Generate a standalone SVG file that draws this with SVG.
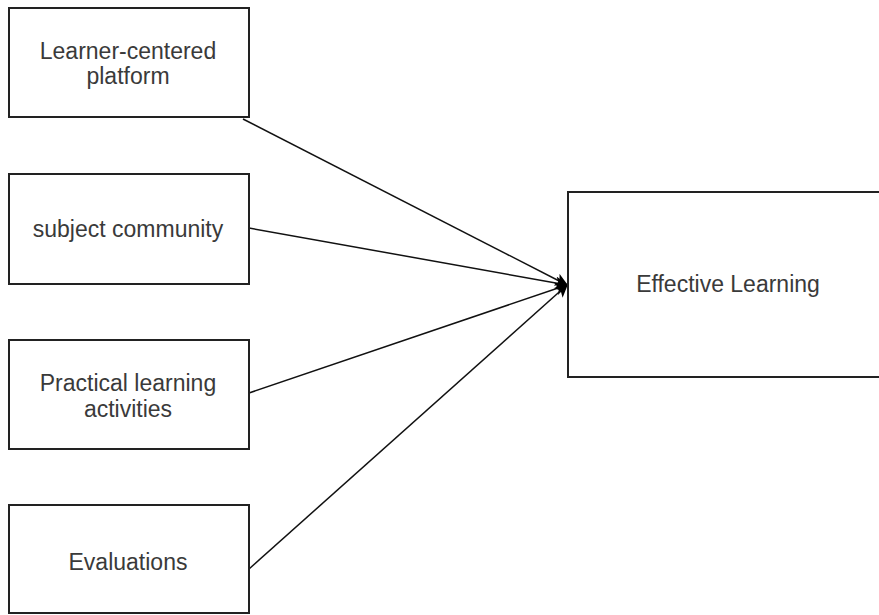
<svg xmlns="http://www.w3.org/2000/svg" width="879" height="615" viewBox="0 0 879 615">
<style>
.box{fill:#fff;stroke:#222;stroke-width:2}
.lbl{font-family:"Liberation Sans",Arial,sans-serif;font-size:23px;fill:#3a3a3a;text-anchor:middle}
.edge{stroke:#111;stroke-width:1.5;fill:none;marker-end:url(#arr)}
</style>
<defs>
<marker id="arr" viewBox="0 0 10 10" refX="9" refY="5" markerWidth="13" markerHeight="13" markerUnits="userSpaceOnUse" orient="auto">
<path d="M0,0 L10,5 L0,10 L2.5,5 Z" fill="#000"/>
</marker>
</defs>
<rect width="879" height="615" fill="#fff"/>
<g id="connectors">
<line class="edge" x1="243" y1="119" x2="567" y2="285"/>
<line class="edge" x1="249" y1="228" x2="567" y2="285"/>
<line class="edge" x1="249" y1="393" x2="567" y2="285"/>
<line class="edge" x1="249" y1="569" x2="567" y2="285"/>
</g>
<g id="n1">
<rect class="box" x="9" y="8" width="240" height="109"/>
<text class="lbl" x="128" y="59">Learner-centered</text>
<text class="lbl" x="128" y="84">platform</text>
</g>
<g id="n2">
<rect class="box" x="9" y="174" width="240" height="110"/>
<text class="lbl" x="128" y="237">subject community</text>
</g>
<g id="n3">
<rect class="box" x="9" y="340" width="240" height="109"/>
<text class="lbl" x="128" y="391">Practical learning</text>
<text class="lbl" x="128" y="417">activities</text>
</g>
<g id="n4">
<rect class="box" x="9" y="505" width="240" height="108"/>
<text class="lbl" x="128" y="570">Evaluations</text>
</g>
<g id="n5">
<rect class="box" x="568" y="192" width="320" height="185"/>
<text class="lbl" x="728" y="292">Effective Learning</text>
</g>
</svg>
